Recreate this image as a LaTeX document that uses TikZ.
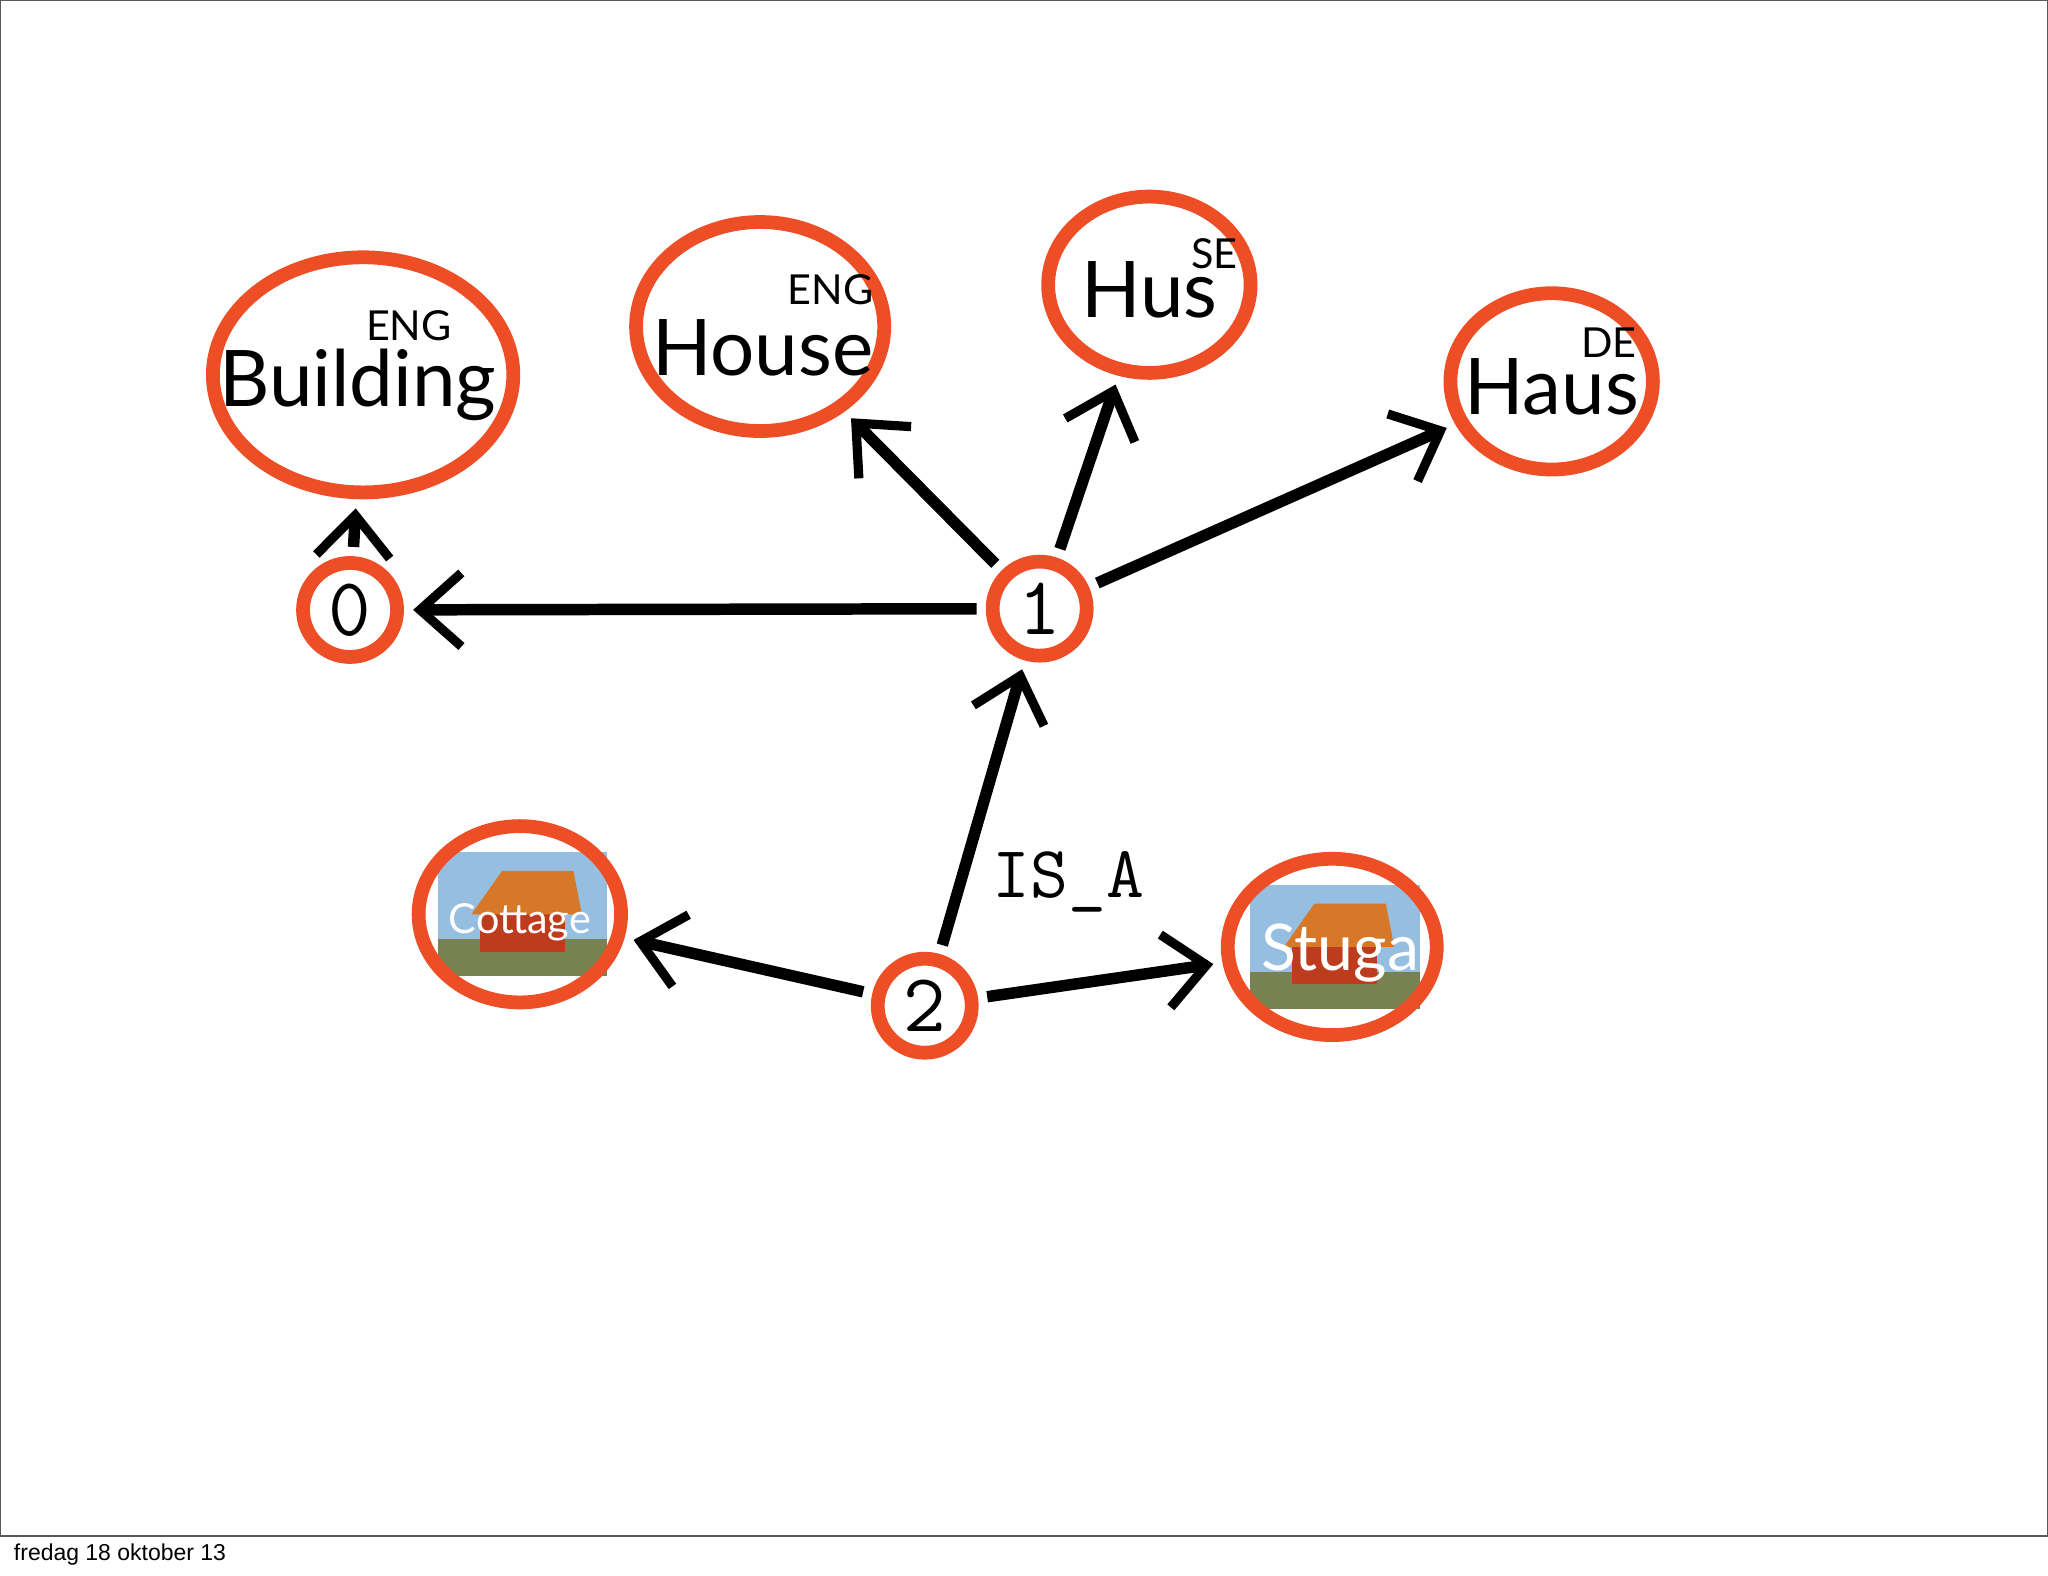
\documentclass[tikz,border=0pt]{standalone}
\usepackage{fontspec}
\setmainfont{Lato}
\usetikzlibrary{shapes.geometric,arrows.meta}
\definecolor{ring}{RGB}{238,78,38}
\definecolor{sky}{RGB}{150,190,225}
\definecolor{grass}{RGB}{120,130,80}
\definecolor{housered}{RGB}{190,60,30}
\definecolor{roof}{RGB}{215,120,40}
\begin{document}
\begin{tikzpicture}[x=0.01cm,y=-0.01cm,
  ringel/.style={draw=ring,line width=3pt,ellipse,inner sep=0pt},
  ringc/.style={draw=ring,line width=3pt,circle,fill=white,minimum size=72*0.01cm,inner sep=0pt,font=\fontsize{18}{18}\ttfamily},
  word/.style={font=\fontsize{17}{17}\selectfont,inner sep=0pt},
  tag/.style={font=\fontsize{9}{9}\selectfont,inner sep=0pt},
  arr/.style={line width=2.5pt,-{Straight Barb[length=9pt,width=16pt,line width=2pt]},shorten >=2pt,shorten <=2pt}]
\useasboundingbox (0,0) rectangle (1568,1206);
\draw[line width=0.6pt,gray!70!black] (0,0) rectangle (1568,1176);
\node[anchor=west,inner sep=0pt,font=\fontsize{5}{5}\fontspec{Liberation Sans}] (foot) at (10,1190) {fredag 18 oktober 13};

\newcommand{\housepic}[4]{%
  \fill[sky] (#1-#3/2,#2-#4/2) rectangle (#1+#3/2,#2+#4/2);
  \fill[grass] (#1-#3/2,#2+#4*0.2) rectangle (#1+#3/2,#2+#4/2);
  \fill[housered] (#1-#3*0.25,#2-#4*0.05) rectangle (#1+#3*0.25,#2+#4*0.3);
  \fill[roof] (#1-#3*0.3,#2) -- (#1-#3*0.12,#2-#4*0.35) -- (#1+#3*0.3,#2-#4*0.35) -- (#1+#3*0.35,#2) -- cycle;
}
\housepic{400}{700}{130}{95}
\housepic{1022}{725}{130}{95}

\node[ringel,minimum width=230*0.01cm,minimum height=180*0.01cm] (build) at (278,287) {};
\node[word] (tb) at (274,295) {Building};
\node[tag] (eb) at (313,249) {ENG};

\node[ringel,minimum width=190*0.01cm,minimum height=160*0.01cm] (house) at (582,250) {};
\node[word] (th) at (584,266) {House};
\node[tag] (eh) at (636,222) {ENG};

\node[ringel,minimum width=155*0.01cm,minimum height=135*0.01cm] (hus) at (880,218) {};
\node[word] (ths) at (880,222) {Hus};
\node[tag] (es) at (930,194) {SE};

\node[ringel,minimum width=155*0.01cm,minimum height=135*0.01cm] (haus) at (1188,292) {};
\node[word] (tha) at (1188,296) {Haus};
\node[tag] (ed) at (1232,262) {DE};

\node[ringel,minimum width=155*0.01cm,minimum height=135*0.01cm] (cot) at (398,700) {};
\node[font=\fontsize{9}{9}\selectfont,text=white,inner sep=0pt] (tc) at (398,706) {Cottage};
\node[ringel,minimum width=160*0.01cm,minimum height=135*0.01cm] (stu) at (1020,725) {};
\node[font=\fontsize{14}{14}\selectfont,text=white,inner sep=0pt] (ts) at (1026,730) {Stuga};

\node[ringc] (n0) at (268,467) {0};
\node[ringc] (n1) at (796,466) {1};
\node[ringc] (n2) at (708,770) {2};

\node[font=\fontsize{16}{16}\ttfamily,inner sep=0pt] (isa) at (818,675) {IS\_A};

\draw[arr] (n0) -- (build);
\draw[arr] (n1) -- (n0);
\draw[arr] (n1) -- (house);
\draw[arr] (n1) -- (hus);
\draw[arr] (n1) -- (haus);
\draw[arr] (n2) -- (n1);
\draw[arr] (n2) -- (cot);
\draw[arr] (n2) -- (stu);
\end{tikzpicture}
\end{document}
